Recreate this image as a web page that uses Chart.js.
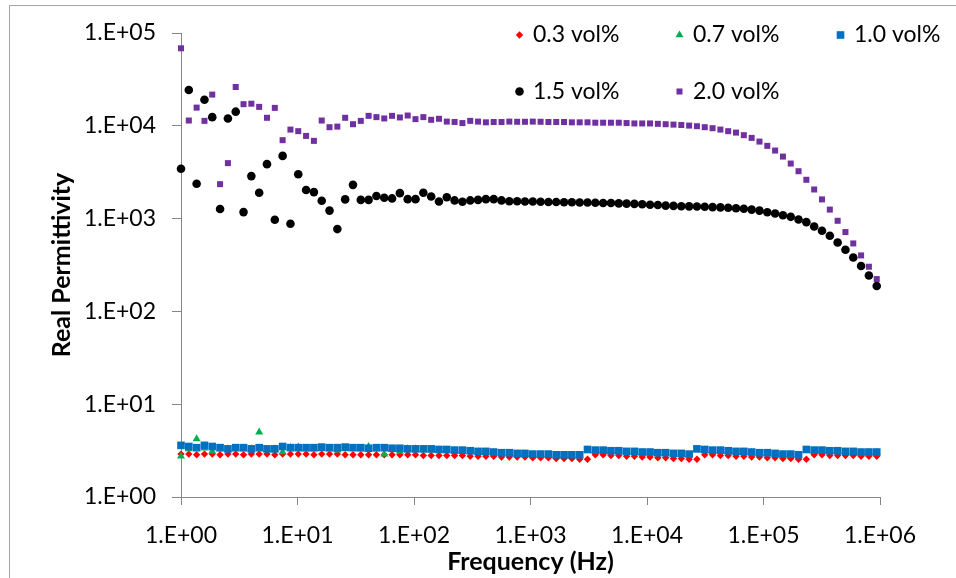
<!DOCTYPE html>
<html><head><meta charset="utf-8">
<script src="https://cdn.jsdelivr.net/npm/chart.js@4.4.1/dist/chart.umd.min.js"></script>
<style>
html,body{margin:0;padding:0;background:#fff;}
#wrap{position:relative;width:956px;height:578px;overflow:hidden;}
#frame{position:absolute;left:9px;top:5px;width:1000px;height:1000px;border:1px solid #a6a6a6;box-sizing:border-box;pointer-events:none}
canvas{position:absolute;left:0;top:0}
</style></head><body>
<div id="wrap"><canvas id="c" width="956" height="578"></canvas><div id="frame"></div></div>
<script>
// ---------- data ----------
const frequencies = [
  1,1.167,1.362,1.590,1.855,2.165,2.527,2.949,3.442,4.017,4.688,5.471,6.386,7.452,8.697,
  10.15,11.85,13.83,16.14,18.83,21.98,25.65,29.94,34.94,40.77,47.59,55.54,64.82,75.65,88.29,
  103.0,120.3,140.4,163.8,191.2,223.1,260.4,303.9,354.7,414.0,483.1,563.8,658.0,768.0,896.3,
  1046,1221,1425,1663,1941,2265,2643,3085,3600,4202,4904,5723,6679,7795,9097,
  10620,12390,14460,16880,19700,22990,26830,31310,36540,42650,49770,58090,67790,79120,92340,
  107800,125800,146800,171300,199900,233300,272300,317800,370900,432900,505200,589600,688100,803100,937300
];
const seriesNames = ['0.3 vol%','0.7 vol%','1.0 vol%','1.5 vol%','2.0 vol%'];
const vol03 = [
  2.9,2.9,2.85,2.9,2.9,2.85,2.9,2.9,2.85,2.9,2.9,2.9,2.85,2.9,2.9,
  2.9,2.9,2.85,2.9,2.9,2.9,2.85,2.85,2.85,2.85,2.85,2.85,2.85,2.85,2.85,
  2.85,2.8,2.8,2.8,2.8,2.8,2.8,2.75,2.75,2.75,2.75,2.7,2.7,2.7,2.7,
  2.65,2.65,2.65,2.6,2.6,2.6,2.55,2.55,2.85,2.85,2.8,2.8,2.75,2.75,2.7,
  2.7,2.65,2.65,2.6,2.6,2.55,2.55,2.85,2.85,2.8,2.8,2.75,2.75,2.7,2.7,
  2.65,2.65,2.6,2.6,2.55,2.55,2.85,2.85,2.8,2.8,2.8,2.8,2.75,2.75,2.75
];
const vol07 = [
  2.75,3.3,4.23,3.35,3.1,3.3,3.3,3.35,3.3,3.3,4.99,3.25,3.3,3.05,3.4,
  3.45,3.3,3.3,3.3,3.3,3.2,3.3,3.35,3.3,3.5,3.3,2.9,3.3,3.1,3.3,
  3.3,3.25,3.2,3.2,3.2,3.15,3.1,3.1,3.05,3.05,3.0,2.95,2.95,2.9,2.9,
  2.85,2.85,2.85,2.8,2.8,2.8,2.8,3.2,3.15,3.15,3.1,3.1,3.05,3.05,3.0,
  3.0,2.95,2.95,2.9,2.9,2.85,3.25,3.2,3.15,3.15,3.1,3.05,3.05,3.0,2.95,
  2.95,2.9,2.85,2.85,2.8,3.2,3.15,3.15,3.1,3.1,3.05,3.05,3.0,3.0,3.0
];
const vol10 = [
  3.6,3.5,3.4,3.6,3.5,3.4,3.3,3.4,3.4,3.3,3.4,3.3,3.3,3.5,3.4,
  3.4,3.4,3.4,3.45,3.4,3.4,3.45,3.4,3.4,3.35,3.4,3.4,3.35,3.35,3.3,
  3.3,3.3,3.3,3.25,3.25,3.2,3.2,3.15,3.1,3.1,3.05,3.0,3.0,2.95,2.95,
  2.9,2.9,2.9,2.85,2.85,2.85,2.85,3.25,3.2,3.2,3.15,3.15,3.1,3.1,3.05,
  3.05,3.0,3.0,2.95,2.95,2.9,3.3,3.25,3.2,3.2,3.15,3.1,3.1,3.05,3.0,
  3.0,2.95,2.9,2.9,2.85,3.25,3.2,3.2,3.15,3.15,3.1,3.1,3.05,3.05,3.05
];
const vol15 = [
  3440,24300,2370,19100,12400,1270,11970,14200,1175,2870,1900,3860,971,4740,879,
  3010,2030,1930,1560,1220,771,1610,2310,1590,1590,1750,1680,1650,1880,1620,
  1620,1900,1730,1530,1700,1570,1520,1570,1590,1620,1620,1570,1540,1540,1530,
  1530,1520,1510,1510,1500,1500,1490,1490,1480,1475,1470,1460,1450,1440,1430,
  1410,1400,1380,1370,1360,1355,1350,1340,1330,1320,1310,1295,1275,1250,1220,
  1170,1135,1085,1045,977,916,822,739,653,553,461,381,308,244,188
];
const vol20 = [
  68400,11400,15700,11300,21700,2350,3960,26200,17100,17300,16000,12200,15600,7000,9100,
  8750,7780,6880,11400,9660,9800,12200,10400,11300,12800,12400,12000,12800,12300,12900,
  11800,12400,11600,11900,11100,11000,10700,11300,11100,10900,10980,10980,11100,11050,11050,
  11100,11050,10980,10980,10980,10900,10900,10900,10800,10800,10800,10800,10700,10600,10600,
  10600,10500,10400,10300,10200,10050,9900,9660,9420,9100,8750,8450,7920,7410,6760,
  6080,5410,4660,3920,3240,2620,2060,1610,1250,947,716,540,401,303,223
];
const xTickValues = [1,10,100,1000,10000,100000,1000000];
const xTickLabels = ['1.E+00','1.E+01','1.E+02','1.E+03','1.E+04','1.E+05','1.E+06'];
const yTickValues = [1,10,100,1000,10000,100000];
const yTickLabels = ['1.E+00','1.E+01','1.E+02','1.E+03','1.E+04','1.E+05'];

// ---------- styles ----------
const seriesValues = [vol03, vol07, vol10, vol15, vol20];
const colors = ['#FF0000','#00B050','#0070C0','#000000','#7030A0'];
const pStyles = ['rectRot','triangle','rect','circle','rect'];
const pRadius = [3.7,4.6,5.4,4.3,4.25];
const FONT = 'Lato, "Open Sans", sans-serif';
const AXIS = '#868686';

const datasets = seriesNames.map((name, i) => ({
  label: name,
  data: frequencies.map((f, k) => ({x: f, y: seriesValues[i][k]})),
  showLine: false,
  pointStyle: pStyles[i],
  pointRadius: pRadius[i],
  pointHoverRadius: pRadius[i],
  backgroundColor: colors[i],
  borderColor: colors[i],
  pointBorderWidth: 0,
  borderWidth: 0,
  order: 4 - i,
  clip: false
}));

const legendCols = [519.5, 679.5, 840.5];
const legendRows = [35, 91.5];
const gridLegend = {
  id: 'gridLegend',
  afterDraw(chart) {
    const ctx = chart.ctx;
    ctx.save();
    chart.data.datasets.forEach((ds, i) => {
      const x = legendCols[i % 3], y = legendRows[Math.floor(i / 3)];
      ctx.fillStyle = ds.backgroundColor;
      ctx.strokeStyle = ds.borderColor;
      Chart.helpers.drawPoint(ctx, {pointStyle: ds.pointStyle, radius: ds.pointRadius, rotation: 0, borderWidth: 0}, x, y);
      ctx.fillStyle = '#000';
      ctx.font = '23px ' + FONT;
      ctx.textBaseline = 'middle';
      ctx.textAlign = 'left';
      ctx.fillText(ds.label, x + 13.5, y);
    });
    ctx.restore();
  }
};

new Chart(document.getElementById('c'), {
  type: 'scatter',
  data: {datasets},
  plugins: [gridLegend],
  options: {
    responsive: false,
    animation: false,
    events: [],
    layout: {padding: {left: 37, top: 33, right: 76, bottom: 0}},
    plugins: {legend: {display: false}, tooltip: {enabled: false}},
    scales: {
      x: {
        type: 'logarithmic', position: 'bottom', min: 1, max: 1000000,
        afterBuildTicks: s => { s.ticks = xTickValues.map(v => ({value: v})); },
        afterFit: s => { s.height = 81; },
        ticks: {callback: (v, i) => xTickLabels[i], font: {family: FONT, size: 23}, color: '#000', padding: 17, maxRotation: 0, autoSkip: false},
        grid: {drawOnChartArea: false, drawTicks: true, tickLength: 8, color: AXIS, lineWidth: 1},
        border: {color: AXIS, width: 1},
        title: {display: true, text: 'Frequency (Hz)', font: {family: FONT, size: 25, weight: 'bold'}, color: '#000', padding: {top: 0, bottom: 1}}
      },
      y: {
        type: 'logarithmic', position: 'left', min: 1, max: 100000,
        afterBuildTicks: s => { s.ticks = yTickValues.map(v => ({value: v})); },
        afterFit: s => { s.width = 144; },
        ticks: {callback: (v, i) => yTickLabels[i], font: {family: FONT, size: 23}, color: '#000', padding: 16, autoSkip: false},
        grid: {drawOnChartArea: false, drawTicks: true, tickLength: 9, color: AXIS, lineWidth: 1},
        border: {color: AXIS, width: 1},
        title: {display: true, text: 'Real Permittivity', font: {family: FONT, size: 25, weight: 'bold'}, color: '#000', padding: {top: 10, bottom: 0}}
      }
    }
  }
});
</script>
</body></html>
